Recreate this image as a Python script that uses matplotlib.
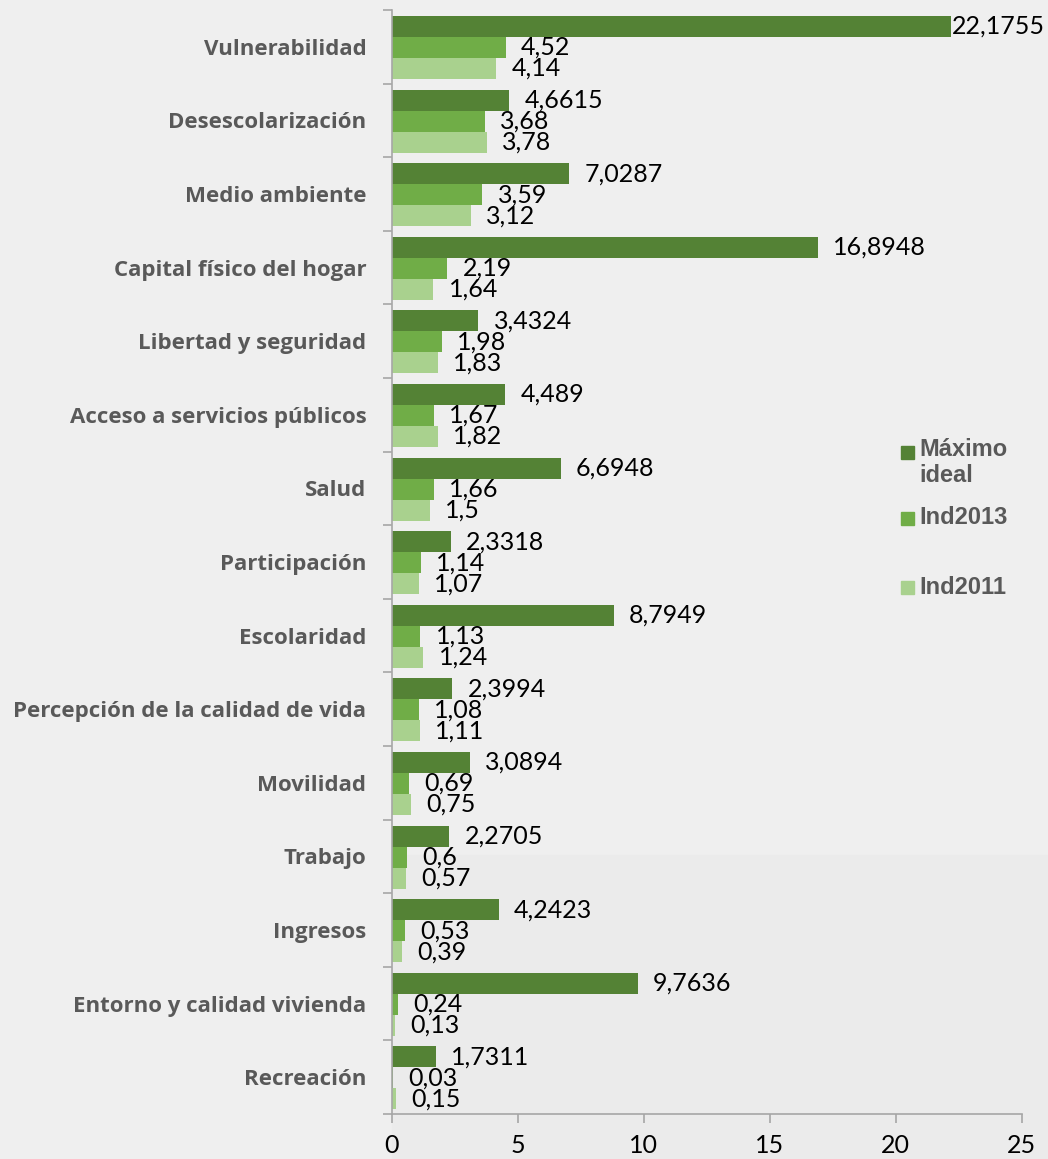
import numpy as np
import matplotlib.pyplot as plt
from matplotlib.patches import Rectangle
from matplotlib.ticker import FixedLocator

# Data (top to bottom as shown)
categories = ['Vulnerabilidad', 'Desescolarización', 'Medio ambiente',
              'Capital físico del hogar', 'Libertad y seguridad',
              'Acceso a servicios públicos', 'Salud', 'Participación',
              'Escolaridad', 'Percepción de la calidad de vida', 'Movilidad',
              'Trabajo', 'Ingresos', 'Entorno y calidad vivienda', 'Recreación']
maximo_ideal = [22.1755, 4.6615, 7.0287, 16.8948, 3.4324, 4.489, 6.6948, 2.3318,
                8.7949, 2.3994, 3.0894, 2.2705, 4.2423, 9.7636, 1.7311]
ind2013 = [4.52, 3.68, 3.59, 2.19, 1.98, 1.67, 1.66, 1.14, 1.13, 1.08, 0.69, 0.6,
           0.53, 0.24, 0.03]
ind2011 = [4.14, 3.78, 3.12, 1.64, 1.83, 1.82, 1.5, 1.07, 1.24, 1.11, 0.75, 0.57,
           0.39, 0.13, 0.15]
x_ticks = [0, 5, 10, 15, 20, 25]

series = [('Máximo\nideal', maximo_ideal, '#548235'),
          ('Ind2013', ind2013, '#70ad47'),
          ('Ind2011', ind2011, '#a9d18e')]

bg = '#efefef'
W, H = 1048, 1159
fig = plt.figure(figsize=(W / 100, H / 100), dpi=100, facecolor=bg)

# faint darker band in the lower part of the plot area
fig.patches.append(Rectangle((392 / W, 0), 1 - 392 / W, 1 - 855 / H,
                             transform=fig.transFigure, color='#ebebeb',
                             zorder=0))

ax = fig.add_axes([0.374, 0.0388, 0.601, 0.9526])
ax.set_facecolor('none')
ax.set_zorder(2)

y = np.arange(len(categories))
h = 0.285
labels = []
for i, (name, vals, col) in enumerate(series):
    pos = y + (i - 1) * h + 0.01
    ax.barh(pos, vals, height=h, color=col, label=name)
    for p, v in zip(pos, vals):
        t = ax.annotate(str(v).replace('.', ','), (v, p), xytext=(11, 0),
                        textcoords='offset points', va='center', ha='left',
                        fontsize=18, family='Lato', color='black')
        labels.append(t)

ax.set_ylim(len(categories) - 0.5, -0.5)
ax.set_xlim(0, 25)

# axis styling
for s in ['top', 'right']:
    ax.spines[s].set_visible(False)
for s in ['left', 'bottom']:
    ax.spines[s].set_color('#a6a6a6')
    ax.spines[s].set_linewidth(1.2)

ax.set_xticks(x_ticks)
ax.set_xticklabels([str(t) for t in x_ticks], fontsize=18, family='Lato')
ax.tick_params(axis='x', length=6.5, width=1.2, color='#a6a6a6', pad=8)

ax.set_yticks(y)
ax.set_yticklabels(categories, fontsize=16, fontweight='bold',
                   family='Open Sans', color='#595959')
ax.tick_params(axis='y', length=0, pad=18.5)
ax.yaxis.set_minor_locator(FixedLocator(np.arange(-0.5, len(categories), 1)))
ax.tick_params(axis='y', which='minor', length=6.5, width=1.2, color='#a6a6a6')

# legend drawn by hand to match the spacing of the original
leg_y = [452, 518, 587]
for (name, vals, col), yy in zip(series, leg_y):
    fig.patches.append(Rectangle((901 / W, 1 - (yy + 6.5) / H), 13 / W, 13 / H,
                                 transform=fig.transFigure, color=col,
                                 zorder=3))
    if '\n' in name:
        fig.text(919 / W, 1 - (yy - 14) / H, name, va='top', ha='left',
                 fontsize=17, fontweight='bold', family='Liberation Sans',
                 color='#595959', linespacing=1.15, zorder=3)
    else:
        fig.text(919 / W, 1 - yy / H, name, va='center', ha='left',
                 fontsize=17, fontweight='bold', family='Liberation Sans',
                 color='#595959', zorder=3)

# keep data labels inside the chart, like the spreadsheet does
fig.canvas.draw()
r = fig.canvas.get_renderer()
for t in labels:
    bb = t.get_window_extent(r)
    if bb.x1 > W - 3:
        dx = (bb.x1 - (W - 3)) * 72 / fig.dpi
        t.xyann = (11 - dx, 0)

fig.savefig('out.png', dpi=100, facecolor=bg)
